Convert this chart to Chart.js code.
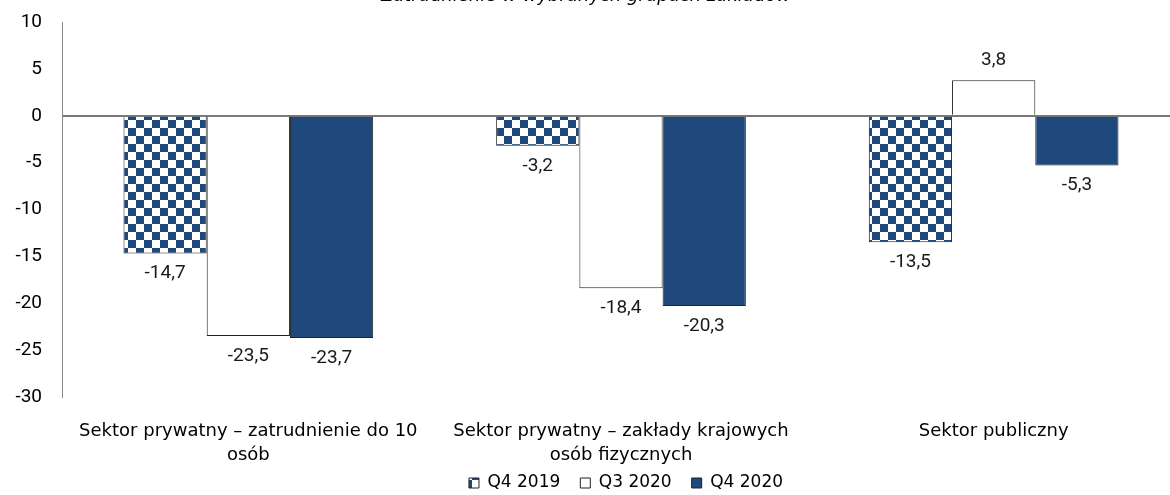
<!DOCTYPE html>
<html>
<head>
<meta charset="utf-8">
<script src="https://cdn.jsdelivr.net/npm/chart.js@4/dist/chart.umd.min.js"></script>
<style>
  html, body { margin: 0; padding: 0; background: #fff; overflow: hidden; }
  #wrap { width: 1170px; height: 495px; overflow: hidden; }
  #wrap div { width: 1190px; height: 495px; }
</style>
</head>
<body>
<div id="wrap"><div><canvas id="chart" width="1190" height="495"></canvas></div></div>
<script>
const chartTitle = "Zatrudnienie w wybranych grupach zakładów";
const categories = [
  ["Sektor prywatny – zatrudnienie do 10", "osób"],
  ["Sektor prywatny – zakłady krajowych", "osób fizycznych"],
  ["Sektor publiczny"]
];
const seriesNames = ["Q4 2019", "Q3 2020", "Q4 2020"];
const q42019 = [-14.7, -3.2, -13.5];
const q32020 = [-23.5, -18.4, 3.8];
const q42020 = [-23.7, -20.3, -5.3];

const navy = "#1f497d";
const labelFont = "'DejaVu Sans', sans-serif";
const numFont = "Roboto, 'Liberation Sans', sans-serif";

function checker() {
  const c = document.createElement("canvas");
  c.width = 16; c.height = 16;
  const g = c.getContext("2d");
  g.fillStyle = "#fff";
  g.fillRect(0, 0, 16, 16);
  g.fillStyle = navy;
  g.fillRect(0, 0, 8, 8);
  g.fillRect(8, 8, 8, 8);
  return document.getElementById("chart").getContext("2d").createPattern(c, "repeat");
}

// value labels under/over bar ends
const valueLabels = {
  id: "valueLabels",
  afterDatasetsDraw(chart) {
    const ctx = chart.ctx;
    ctx.save();
    ctx.font = "19px " + numFont;
    ctx.fillStyle = "#1a1a1a";
    ctx.textAlign = "center";
    ctx.textBaseline = "middle";
    chart.data.datasets.forEach((ds, i) => {
      chart.getDatasetMeta(i).data.forEach((bar, j) => {
        const v = ds.data[j];
        const y = v < 0 ? bar.y + 20 : bar.y - 20;
        ctx.fillText(v.toFixed(1).replace(".", ","), bar.x, y);
      });
    });
    ctx.restore();
  }
};

// title cut off at the top edge, as in the source
const cutTitle = {
  id: "cutTitle",
  afterDraw(chart) {
    const ctx = chart.ctx;
    ctx.save();
    ctx.font = "italic 18px " + labelFont;
    ctx.fillStyle = "#000";
    ctx.textAlign = "center";
    ctx.textBaseline = "alphabetic";
    ctx.fillText(chartTitle, 586, 1);
    ctx.restore();
  }
};

// legend sits centred under the plot, not the whole canvas
const shiftLegend = {
  id: "shiftLegend",
  afterLayout(chart) {
    chart.legend.left += 36;
    chart.legend.right += 36;
  }
};

new Chart(document.getElementById("chart"), {
  type: "bar",
  data: {
    labels: categories,
    datasets: [
      { label: seriesNames[0], data: q42019, backgroundColor: checker(), borderColor: "#222", borderWidth: 1 },
      { label: seriesNames[1], data: q32020, backgroundColor: "#fff", borderColor: "#222", borderWidth: 1 },
      { label: seriesNames[2], data: q42020, backgroundColor: navy, borderColor: "#222", borderWidth: 1 }
    ]
  },
  options: {
    responsive: false,
    animation: false,
    layout: { padding: { top: 22, right: 10, left: 0, bottom: -6.5 } },
    datasets: { bar: { barPercentage: 1, categoryPercentage: 0.67 } },
    scales: {
      x: {
        grid: { display: false },
        border: { display: false },
        ticks: {
          color: "#000",
          font: { family: labelFont, size: 18, lineHeight: 1.3 },
          padding: 15,
          maxRotation: 0,
          autoSkip: false
        },
        afterFit(s) {
          s.height = 57.5;
          // let the second label line run into the legend band
          s._computeLabelArea = () => null;
        }
      },
      y: {
        min: -30,
        max: 10,
        border: { display: true, color: "#888" },
        grid: {
          drawTicks: false,
          color: c => c.tick.value === 0 ? "#777" : "rgba(0,0,0,0)",
          lineWidth: 2
        },
        ticks: {
          stepSize: 5,
          color: "#000",
          padding: 20,
          font: { family: numFont, size: 19 }
        },
        afterFit(s) {
          s.width = 62;
          s.paddingTop = 0;
          s.paddingBottom = 0;
        }
      }
    },
    plugins: {
      tooltip: { enabled: false },
      legend: {
        position: "bottom",
        labels: {
          color: "#000",
          font: { family: labelFont, size: 17 },
          boxWidth: 10,
          boxHeight: 10,
          padding: 20
        }
      }
    }
  },
  plugins: [valueLabels, cutTitle, shiftLegend]
});
</script>
</body>
</html>
